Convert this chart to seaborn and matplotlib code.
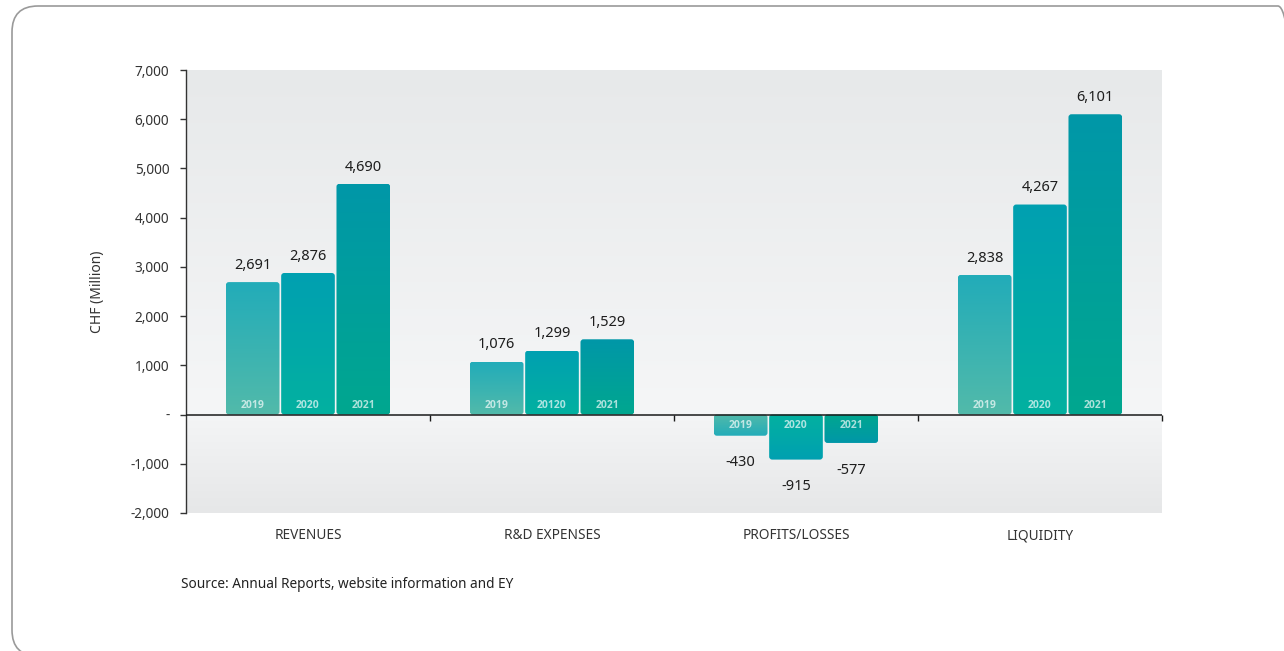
import numpy as np
import pandas as pd
import matplotlib
matplotlib.use("Agg")
import matplotlib.pyplot as plt
import seaborn as sns
from matplotlib.colors import to_rgb, LinearSegmentedColormap
from matplotlib.patches import FancyBboxPatch
from matplotlib.ticker import FuncFormatter, FixedLocator

# ---- data -------------------------------------------------------------
categories = ["REVENUES", "R&D EXPENSES", "PROFITS/LOSSES", "LIQUIDITY"]
years = ["2019", "2020", "2021"]
revenues = [2691, 2876, 4690]
rd_expenses = [1076, 1299, 1529]
profits_losses = [-430, -915, -577]
liquidity = [2838, 4267, 6101]
# year captions printed inside the bars (one list per category)
bar_captions = [
    ["2019", "2020", "2021"],
    ["2019", "20120", "2021"],
    ["2019", "2020", "2021"],
    ["2019", "2020", "2021"],
]
y_ticks = [-2000, -1000, 0, 1000, 2000, 3000, 4000, 5000, 6000, 7000]
source_note = "Source: Annual Reports, website information and EY"

df = pd.DataFrame({
    "category": np.repeat(categories, len(years)),
    "year": years * len(categories),
    "value": revenues + rd_expenses + profits_losses + liquidity,
})

# gradient colours per year: (base colour, tip colour)
year_gradients = {
    "2019": ("#52baaa", "#22acb9"),
    "2020": ("#03b1a0", "#00a0b1"),
    "2021": ("#00a78f", "#0097a8"),
}

sns.set_theme(style="white")
plt.rcParams["font.family"] = ["Noto Sans", "DejaVu Sans"]

W, H = 1284, 651
fig = plt.figure(figsize=(W / 100, H / 100), dpi=100)
ax_l, ax_b, ax_w, ax_h = 186, 138, 976, 443
ax = fig.add_axes([ax_l / W, ax_b / H, ax_w / W, ax_h / H])

sns.barplot(
    data=df, x="category", y="value", hue="year",
    order=categories, hue_order=years,
    palette=[year_gradients[y][1] for y in years],
    width=0.68, gap=0.03, legend=False, ax=ax, errorbar=None,
)

ymin, ymax = -2000, 7000
xmin, xmax = -0.5, len(categories) - 0.5
ax.set_xlim(xmin, xmax)
ax.set_ylim(ymin, ymax)

# soft grey panel gradient behind the bars
rows = 500
ys = np.linspace(ymin, ymax, rows)
top_c, zero_hi, zero_lo, bot_c = (np.array(to_rgb(c)) for c in
                                  ("#e7e9ea", "#f5f6f7", "#f4f5f6", "#e6e7e8"))
bg = np.zeros((rows, 1, 3))
for i, yv in enumerate(ys):
    if yv >= 0:
        t = yv / ymax
        bg[i, 0] = zero_hi * (1 - t) + top_c * t
    else:
        t = yv / ymin
        bg[i, 0] = zero_lo * (1 - t) + bot_c * t
ax.imshow(bg, extent=[xmin, xmax, ymin, ymax], origin="lower",
          aspect="auto", zorder=0, interpolation="bilinear")

# pixel scale of the data axes, used for rounded bar corners
px_per_x = ax_w / (xmax - xmin)
px_per_y = ax_h / (ymax - ymin)
corner_px = 3.0
r_x = corner_px / px_per_x
aspect = px_per_x / px_per_y

# replace flat bar fills with vertical gradients (base -> tip)
grad = np.linspace(0, 1, 256).reshape(-1, 1)
for year, cont in zip(years, ax.containers):
    cmap = LinearSegmentedColormap.from_list("g" + year, year_gradients[year])
    for ci, patch in enumerate(cont.patches):
        x0, w, h = patch.get_x(), patch.get_width(), patch.get_height()
        patch.set_visible(False)
        shape = FancyBboxPatch((x0, min(0, h)), w, abs(h),
                               boxstyle=f"round,pad=0,rounding_size={r_x}",
                               mutation_aspect=aspect, transform=ax.transData)
        im = ax.imshow(grad, cmap=cmap, extent=[x0, x0 + w, 0, h],
                       origin="lower", aspect="auto", zorder=2,
                       interpolation="bilinear")
        im.set_clip_path(shape)

        # value label
        off = 12 if h >= 0 else -19.5
        ax.annotate(f"{h:,.0f}", (x0 + w / 2, h), xytext=(0, off),
                    textcoords="offset points", ha="center", va="center",
                    fontsize=10.5, color="#1e1e1e", zorder=5)
        # year caption near the bar base
        yoff = 6.5 if h >= 0 else -8
        ax.annotate(bar_captions[ci][years.index(year)], (x0 + w / 2, 0),
                    xytext=(0, yoff), textcoords="offset points",
                    ha="center", va="center", fontsize=7.5,
                    family=["Open Sans", "DejaVu Sans"], fontweight="bold",
                    color="white", alpha=0.68, zorder=5)

ax.set_xlim(xmin, xmax)
ax.set_ylim(ymin, ymax)

# zero baseline with small downward ticks between category groups
ax.axhline(0, color="#1a1a1a", lw=1.1, zorder=4)
bounds = np.arange(1, len(categories) + 1) - 0.5
ax.plot(bounds, np.zeros_like(bounds), linestyle="none", marker=3,
        markersize=4, color="#1a1a1a", mew=1.0, zorder=4, clip_on=False)

for side in ("top", "right", "bottom"):
    ax.spines[side].set_visible(False)
ax.spines["left"].set_color("#333333")
ax.spines["left"].set_linewidth(1.0)

ax.yaxis.set_major_locator(FixedLocator(y_ticks))
ax.yaxis.set_major_formatter(FuncFormatter(lambda v, p: "-" if v == 0 else f"{v:,.0f}"))
ax.tick_params(axis="y", direction="out", length=4, width=1, color="#333333",
               labelsize=9.8, labelcolor="#333333", pad=8, left=True)
ax.tick_params(axis="x", length=0, labelsize=9.8, labelcolor="#333333", pad=11)
ax.set_xlabel("")
ax.set_ylabel("CHF (Million)", fontsize=10, color="#333333")
ax.yaxis.set_label_coords(-0.0835, 0.5)
ax.grid(False)

fig.text(181 / W, 1 - 584 / H, source_note, fontsize=9.8,
         color="#222222", va="center", ha="left")

# rounded outer frame, its right edge just past the figure border
frame = FancyBboxPatch((0.12, -0.05), 12.92, 6.50,
                       boxstyle="round,pad=0,rounding_size=0.26",
                       transform=fig.dpi_scale_trans, facecolor="none",
                       edgecolor="#9a9a9a", linewidth=1.2, zorder=-1)
fig.patches.append(frame)

fig.savefig("out.png", dpi=100, facecolor="white")
